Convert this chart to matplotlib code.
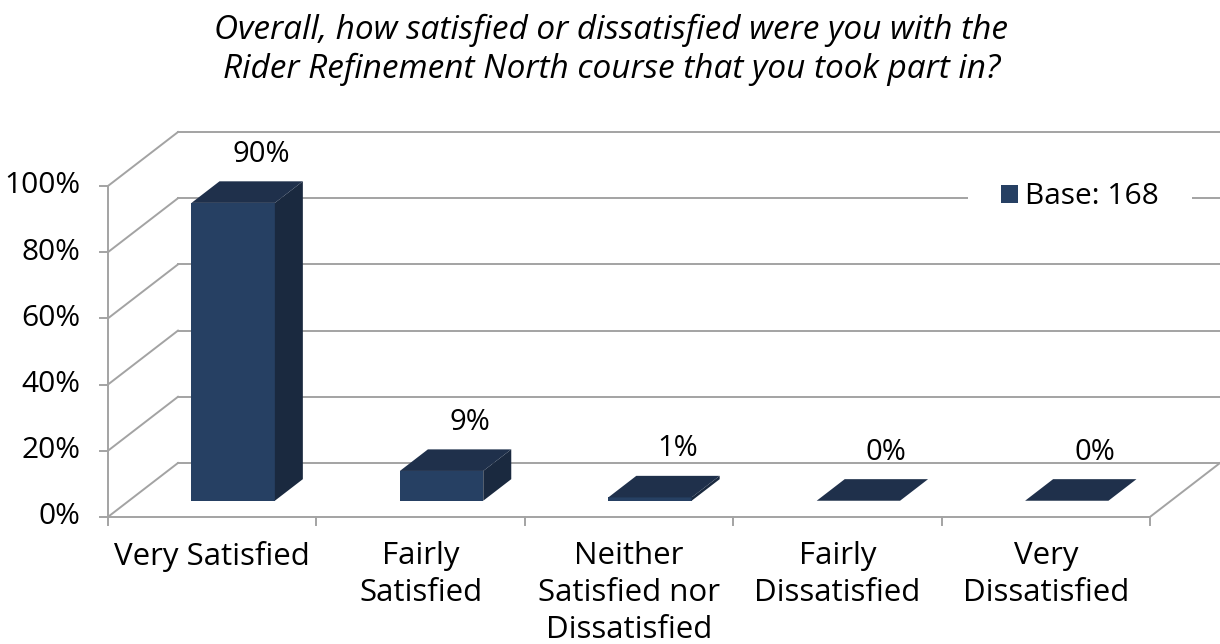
import matplotlib
matplotlib.use("Agg")
import matplotlib.pyplot as plt
from matplotlib.patches import Polygon, Patch

categories = ["Very Satisfied", "Fairly\nSatisfied", "Neither\nSatisfied nor\nDissatisfied",
              "Fairly\nDissatisfied", "Very\nDissatisfied"]
values = [90, 9, 1, 0, 0]
y_ticks = [0, 20, 40, 60, 80, 100]
series_name = "Base: 168"
title = ("Overall, how satisfied or dissatisfied were you with the\n"
         "Rider Refinement North course that you took part in?")

plt.rcParams['font.family'] = ['Open Sans', 'DejaVu Sans']

fig = plt.figure(figsize=(12.2, 6.44), dpi=100)
ax = fig.add_axes([0, 0, 1, 1])
ax.set_xlim(-0.518, 5.336)
ax.set_ylim(-38.4, 156.2)
ax.axis('off')

# depth of the 3-D box (x in category units, y in percent)
DX, DY = 0.336, 16.3
n = len(categories)
grid_c = '#a3a3a3'
lw = 1.4
front_c = '#264063'
top_c = '#1f304b'
side_c = '#1a293f'

# back wall and left wall gridlines
for t in y_ticks:
    ax.plot([DX, n + DX], [t + DY, t + DY], color=grid_c, lw=lw, zorder=1)
    ax.plot([0, DX], [t, t + DY], color=grid_c, lw=lw, zorder=1)
    ax.plot([-0.038, 0], [t, t], color=grid_c, lw=lw, zorder=1)
    ax.text(-0.134, t, f"{t}%", ha='right', va='center', fontsize=21.5)

# front axes and floor edge
ax.plot([0, 0], [0, max(y_ticks)], color=grid_c, lw=lw, zorder=1)
ax.plot([0, n], [0, 0], color=grid_c, lw=lw, zorder=1)
ax.plot([n, n + DX], [0, DY], color=grid_c, lw=lw, zorder=1)
for i in range(n + 1):
    ax.plot([i, i], [0, -2.4], color=grid_c, lw=lw, zorder=1)

# bars: front face, top and right side
w = 0.4
f0, f1 = 0.3, 0.7
for i, v in enumerate(values):
    x0 = i + 0.5 - w / 2
    x1 = i + 0.5 + w / 2
    fx, fy = f0 * DX, f0 * DY
    bx, by = f1 * DX, f1 * DY
    front = [(x0 + fx, fy), (x1 + fx, fy), (x1 + fx, fy + v), (x0 + fx, fy + v)]
    top = [(x0 + fx, fy + v), (x1 + fx, fy + v), (x1 + bx, by + v), (x0 + bx, by + v)]
    side = [(x1 + fx, fy), (x1 + bx, by), (x1 + bx, by + v), (x1 + fx, fy + v)]
    for pts, c in ((front, front_c), (side, side_c), (top, top_c)):
        ax.add_patch(Polygon(pts, closed=True, facecolor=c, edgecolor='none', zorder=3))
    ax.text(i + 0.5 + bx, by + v + 8.2, f"{v}%", ha='center', va='center', fontsize=21)

# category labels
for i, lab in enumerate(categories):
    ax.text(i + 0.5, -7.3, lab, ha='center', va='top', fontsize=22.5, linespacing=1.3)

leg = ax.legend(handles=[Patch(facecolor=front_c, label=series_name)],
                loc='center', bbox_to_anchor=(1080 / 1220, 1 - 197 / 644),
                bbox_transform=fig.transFigure, fontsize=21.5, frameon=True,
                framealpha=1, edgecolor='none', fancybox=False,
                handlelength=0.55, handleheight=0.55, handletextpad=0.25,
                borderpad=1.1)
leg.set_zorder(5)

fig.text(0.501, 1 - 50 / 644, title, ha='center', va='center', fontsize=24,
         style='italic', linespacing=1.2)

fig.savefig("out.png", dpi=100)
